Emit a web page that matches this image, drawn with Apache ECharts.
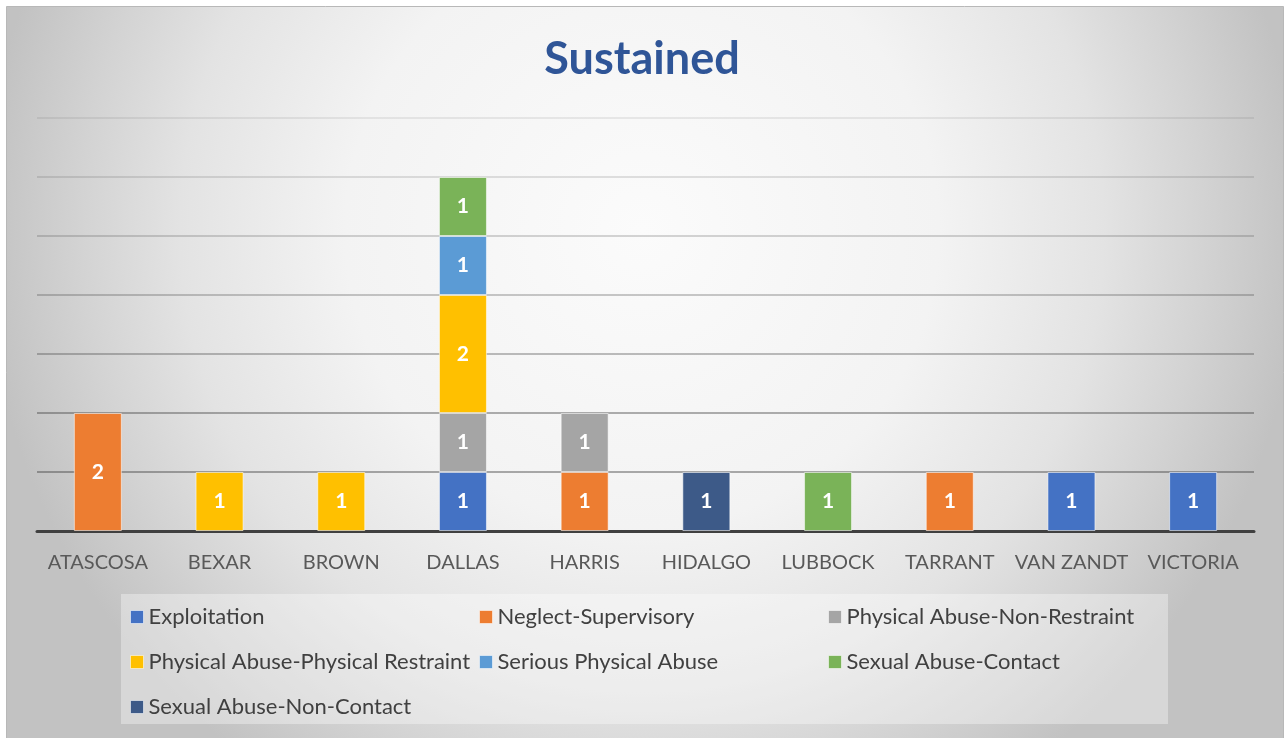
<!DOCTYPE html>
<html>
<head>
<meta charset="utf-8">
<title>Sustained</title>
<script src="https://cdn.jsdelivr.net/npm/echarts@6/dist/echarts.min.js"></script>
<style>
  html, body { margin: 0; padding: 0; background: #ffffff; }
  #chart { width: 1284px; height: 738px; }
</style>
</head>
<body>
<div id="chart"></div>
<script>
// Counties on the category axis
const counties = ['ATASCOSA', 'BEXAR', 'BROWN', 'DALLAS', 'HARRIS', 'HIDALGO', 'LUBBOCK', 'TARRANT', 'VAN ZANDT', 'VICTORIA'];

// Sustained allegations per county, one array per allegation type ('-' = none)
const exploitation          = ['-', '-', '-', 1, '-', '-', '-', '-', 1, 1];
const neglectSupervisory    = [2, '-', '-', '-', 1, '-', '-', 1, '-', '-'];
const physicalNonRestraint  = ['-', '-', '-', 1, 1, '-', '-', '-', '-', '-'];
const physicalRestraint     = ['-', 1, 1, 2, '-', '-', '-', '-', '-', '-'];
const seriousPhysical       = ['-', '-', '-', 1, '-', '-', '-', '-', '-', '-'];
const sexualContact         = ['-', '-', '-', 1, '-', '-', 1, '-', '-', '-'];
const sexualNonContact      = ['-', '-', '-', '-', '-', 1, '-', '-', '-', '-'];

// Value axis range
const yMin = 0;
const yMax = 7;
const yStep = 1;

const seriesDefs = [
  { name: 'Exploitation', data: exploitation, color: '#4472C4' },
  { name: 'Neglect-Supervisory', data: neglectSupervisory, color: '#ED7D31' },
  { name: 'Physical Abuse-Non-Restraint', data: physicalNonRestraint, color: '#A5A5A5' },
  { name: 'Physical Abuse-Physical Restraint', data: physicalRestraint, color: '#FFC000' },
  { name: 'Serious Physical Abuse', data: seriousPhysical, color: '#5B9BD5' },
  { name: 'Sexual Abuse-Contact', data: sexualContact, color: '#7AB358' },
  { name: 'Sexual Abuse-Non-Contact', data: sexualNonContact, color: '#3D5A88' }
];

const FONT = 'Lato, "Open Sans", "Liberation Sans", sans-serif';

const chart = echarts.init(document.getElementById('chart'), null, { renderer: 'canvas' });

const legendText = { color: '#404040', fontSize: 22, fontFamily: FONT, lineHeight: 22 };
function legendColumn(left, names) {
  return {
    orient: 'vertical',
    left: left,
    top: 606,
    padding: 0,
    itemWidth: 13,
    itemHeight: 13,
    itemGap: 23,
    itemStyle: { borderColor: 'rgba(255,255,255,0.55)', borderWidth: 1 },
    icon: 'rect',
    selectedMode: false,
    textStyle: legendText,
    data: names
  };
}

const option = {
  animation: false,
  color: seriesDefs.map(s => s.color),
  title: {
    text: 'Sustained',
    left: 'center',
    top: 27,
    textStyle: { color: '#2F5597', fontSize: 45, fontWeight: 'bold', fontFamily: FONT, lineHeight: 54 }
  },
  graphic: [
    {
      type: 'rect',
      z: -10,
      silent: true,
      shape: { x: 6.5, y: 6.5, width: 1277, height: 740 },
      style: {
        fill: {
          type: 'radial', x: 642, y: 230, r: 660, global: true,
          colorStops: [
            { offset: 0, color: '#fbfbfb' },
            { offset: 0.45, color: '#f3f3f3' },
            { offset: 0.7, color: '#e3e3e3' },
            { offset: 0.85, color: '#d3d3d3' },
            { offset: 1, color: '#c2c2c2' }
          ]
        },
        stroke: '#b8b8b8',
        lineWidth: 1
      }
    },
    {
      type: 'rect',
      z: -5,
      silent: true,
      shape: { x: 121, y: 594, width: 1047, height: 130 },
      style: { fill: 'rgba(255,255,255,0.35)' }
    }
  ],
  legend: [
    legendColumn(130, ['Exploitation', 'Physical Abuse-Physical Restraint', 'Sexual Abuse-Non-Contact']),
    legendColumn(479, ['Neglect-Supervisory', 'Serious Physical Abuse']),
    legendColumn(828, ['Physical Abuse-Non-Restraint', 'Sexual Abuse-Contact'])
  ],
  grid: { left: 37, right: 30, top: 118, bottom: 207, containLabel: false },
  xAxis: {
    type: 'category',
    data: counties,
    axisLine: { show: true, lineStyle: { color: '#404040', width: 3 } },
    axisTick: { show: false },
    axisLabel: { color: '#595959', fontSize: 20, fontFamily: FONT, margin: 22, interval: 0 }
  },
  yAxis: {
    type: 'value',
    min: yMin,
    max: yMax,
    interval: yStep,
    axisLine: { show: false },
    axisTick: { show: false },
    axisLabel: { show: false },
    splitLine: {
      show: true,
      lineStyle: {
        width: 2,
        color: [
          'rgba(0,0,0,0)',
          'rgba(60,60,60,0.42)',
          'rgba(60,60,60,0.40)',
          'rgba(60,60,60,0.33)',
          'rgba(60,60,60,0.27)',
          'rgba(60,60,60,0.21)',
          'rgba(60,60,60,0.15)',
          'rgba(60,60,60,0.09)'
        ]
      }
    }
  },
  series: seriesDefs.map(s => ({
    name: s.name,
    type: 'bar',
    stack: 'total',
    barWidth: 48,
    data: s.data,
    itemStyle: { color: s.color, borderColor: 'rgba(255,255,255,0.55)', borderWidth: 1 },
    label: {
      show: true,
      position: 'inside',
      color: '#ffffff',
      fontSize: 21,
      fontWeight: 'bold',
      fontFamily: FONT
    }
  }))
};

chart.setOption(option);
</script>
</body>
</html>
